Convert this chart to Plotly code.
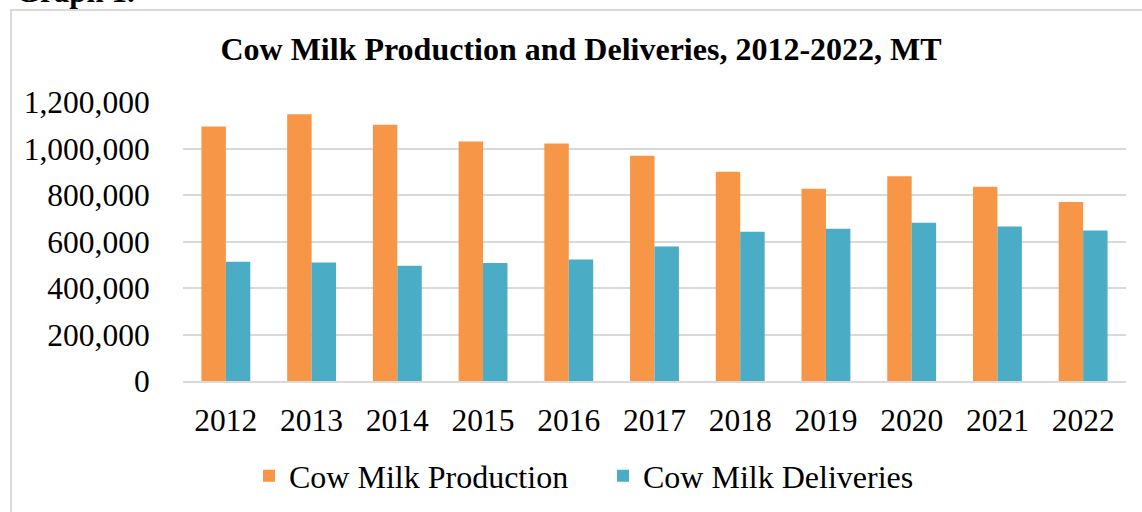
import plotly.graph_objects as go

years = ["2012", "2013", "2014", "2015", "2016", "2017", "2018", "2019", "2020", "2021", "2022"]
production = [1095000, 1147000, 1102000, 1030000, 1021000, 969000, 900000, 827000, 881000, 836000, 770000]
deliveries = [513000, 510000, 496000, 507000, 523000, 578000, 642000, 655000, 681000, 664000, 647000]
y_ticks = [0, 200000, 400000, 600000, 800000, 1000000, 1200000]

FONT = "Liberation Serif, Times New Roman, serif"
W, H = 1142, 512
L, R, T, B = 183, 16, 102, 131
pw, ph = W - L - R, H - T - B

def px_x(x):
    return (x - L) / pw

def px_y(y):
    return (H - B - y) / ph

fig = go.Figure()
fig.add_trace(go.Bar(x=years, y=production, name="Cow Milk Production",
                     marker=dict(color="#F79646", line=dict(width=0))))
fig.add_trace(go.Bar(x=years, y=deliveries, name="Cow Milk Deliveries",
                     marker=dict(color="#4BACC6", line=dict(width=0))))

fig.update_layout(
    width=W, height=H,
    margin=dict(l=L, r=R, t=T, b=B, autoexpand=False),
    paper_bgcolor="white", plot_bgcolor="white",
    barmode="group", bargap=0.43, bargroupgap=0,
    font=dict(family=FONT, size=31.5, color="black"),
    title=dict(text="<b>Cow Milk Production and Deliveries, 2012-2022, MT</b>",
               font=dict(family=FONT, size=32, color="black"),
               x=581 / W, xref="container", xanchor="center",
               y=1 - 49 / H, yref="container", yanchor="middle"),
    legend=dict(orientation="h", x=px_x(249), xanchor="left", y=px_y(476), yanchor="middle",
                font=dict(family=FONT, size=32), entrywidth=309, entrywidthmode="pixels",
                bgcolor="rgba(0,0,0,0)"),
    showlegend=True,
)
fig.update_xaxes(showgrid=False, showline=True, linecolor="#d9d9d9", linewidth=2,
                 ticks="outside", ticklen=10, tickcolor="rgba(0,0,0,0)",
                 tickfont=dict(family=FONT, size=31.5))
fig.update_yaxes(range=[0, 1200000], tickvals=y_ticks, tickformat=",d",
                 showgrid=True, gridcolor="#d9d9d9", gridwidth=1.5,
                 zeroline=False, ticks="outside", ticklen=26, tickcolor="rgba(0,0,0,0)",
                 tickfont=dict(family=FONT, size=31.5))

# outer chart border (partially cut off at right and bottom)
fig.add_shape(type="rect", xref="paper", yref="paper",
              x0=px_x(11), x1=px_x(W + 20), y0=px_y(H + 20), y1=px_y(10),
              line=dict(color="#d9d9d9", width=2), fillcolor="rgba(0,0,0,0)", layer="below")

# caption cut off above the chart
fig.add_annotation(text="<b>Graph 1.</b>", xref="paper", yref="paper",
                   x=px_x(14), y=px_y(11.5), xanchor="left", yanchor="bottom",
                   showarrow=False, font=dict(family=FONT, size=31, color="black"))

fig.write_html("out.html", config={"displayModeBar": False},
               post_script="document.body.style.margin='0';document.body.style.overflow='hidden';")
